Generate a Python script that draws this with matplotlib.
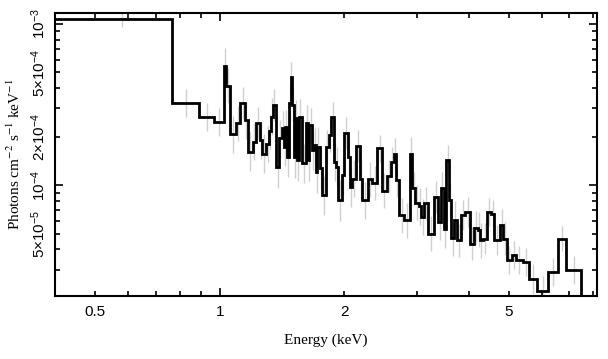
import numpy as np
import matplotlib
matplotlib.use("Agg")
import matplotlib.pyplot as plt
from matplotlib.ticker import LogLocator, FuncFormatter

plt.rcParams['font.family'] = ['Liberation Sans', 'DejaVu Sans']
plt.rcParams['mathtext.fontset'] = 'custom'
plt.rcParams['mathtext.rm'] = 'Liberation Sans'
plt.rcParams['mathtext.it'] = 'Liberation Sans:italic'

# bin edges (keV)
edges = [0.39, 0.769, 0.889, 0.971, 1.023, 1.036, 1.060, 1.096, 1.122, 1.150,
         1.169, 1.202, 1.224, 1.250, 1.267, 1.296, 1.316, 1.334, 1.344, 1.369,
         1.394, 1.411, 1.431, 1.442, 1.458, 1.469, 1.483, 1.497, 1.511, 1.524,
         1.536, 1.553, 1.577, 1.612, 1.636, 1.647, 1.673, 1.689, 1.711, 1.720,
         1.744, 1.763, 1.803, 1.836, 1.857, 1.891, 1.912, 1.934, 1.971, 1.996,
         2.045, 2.061, 2.091, 2.131, 2.179, 2.211, 2.282, 2.338, 2.396, 2.472,
         2.530, 2.590, 2.638, 2.663, 2.713, 2.790, 2.879, 2.912, 2.971, 3.033,
         3.067, 3.118, 3.194, 3.297, 3.377, 3.423, 3.486, 3.520, 3.585, 3.631,
         3.687, 3.735, 3.827, 3.920, 4.024, 4.121, 4.198, 4.250, 4.316, 4.413,
         4.523, 4.607, 4.756, 4.845, 4.935, 5.074, 5.200, 5.395, 5.600, 5.845,
         6.209, 6.565, 6.865, 7.483]

# flux in units of 1e-4 photons cm^-2 s^-1 keV^-1
flux = [10.74, 3.25, 2.65, 2.47, 5.45, 4.15, 2.07, 2.42, 3.24, 2.53,
        1.61, 1.86, 2.44, 1.90, 1.57, 1.80, 2.16, 2.66, 3.14, 1.29,
        1.95, 2.25, 1.73, 2.28, 1.50, 3.22, 4.71, 3.14, 1.49, 2.61,
        1.43, 2.66, 1.37, 2.44, 1.43, 2.36, 1.65, 1.77, 1.21, 1.73,
        1.27, 0.867, 1.73, 2.05, 2.66, 1.40, 1.30, 0.807, 1.15, 2.10,
        1.50, 0.976, 1.10, 1.75, 1.10, 0.807, 1.085, 1.03, 1.69, 0.924,
        1.14, 1.40, 1.56, 1.07, 0.651, 0.606, 1.57, 0.954, 0.779, 0.741,
        0.636, 0.770, 0.501, 0.846, 0.592, 0.954, 0.538, 1.44, 0.807, 0.473,
        0.612, 0.455, 0.651, 0.683, 0.434, 0.546, 0.531, 0.455, 0.467, 0.683,
        0.667, 0.455, 0.570, 0.467, 0.342, 0.367, 0.342, 0.334, 0.263, 0.220,
        0.289, 0.467, 0.299]

# relative errors
err_frac = [0.12, 0.22, 0.22, 0.22, 0.30, 0.28, 0.30, 0.28, 0.26, 0.30,
            0.32, 0.30, 0.26, 0.30, 0.32, 0.30, 0.28, 0.30, 0.26, 0.34,
            0.30, 0.28, 0.32, 0.28, 0.34, 0.28, 0.24, 0.28, 0.34, 0.30,
            0.34, 0.28, 0.32, 0.28, 0.34, 0.28, 0.32, 0.30, 0.36, 0.32,
            0.34, 0.32, 0.28, 0.28, 0.24, 0.32, 0.32, 0.34, 0.32, 0.26,
            0.32, 0.34, 0.30, 0.26, 0.30, 0.30, 0.28, 0.28, 0.22, 0.28,
            0.26, 0.24, 0.26, 0.26, 0.28, 0.28, 0.26, 0.26, 0.28, 0.30,
            0.30, 0.26, 0.28, 0.26, 0.30, 0.26, 0.32, 0.24, 0.28, 0.30,
            0.30, 0.26, 0.24, 0.24, 0.26, 0.26, 0.28, 0.28, 0.24, 0.22,
            0.22, 0.24, 0.24, 0.26, 0.22, 0.22, 0.22, 0.22, 0.24, 0.24,
            0.22, 0.20, 0.22]

edges = np.array(edges)
flux = np.array(flux) * 1e-4
err_frac = np.array(err_frac)
centers = 0.5 * (edges[:-1] + edges[1:])
centers[0] = 0.58
up = flux * err_frac
lo = flux - flux / (1 + err_frac)

fig = plt.figure(figsize=(6.08, 3.59), dpi=100)
ax = fig.add_axes([0.0905, 0.175, 0.891, 0.789])

ax.errorbar(centers, flux, yerr=[lo, up], fmt='none', ecolor='#d0d0d0', elinewidth=1, zorder=1)
ax.stairs(flux, edges, baseline=1e-7, color='k', lw=2, zorder=2)

ax.set_xscale('log')
ax.set_yscale('log')
ax.set_xlim(0.4, 8.15)
ax.set_ylim(2.05e-5, 1.17e-3)

def fmt_x(v, pos):
    for m in (0.5, 1, 2, 5):
        if abs(v - m) < 1e-6:
            return '%g' % m
    return ''

def fmt_y(v, pos):
    e = int(np.floor(np.log10(v) + 1e-9))
    m = round(v / 10.0**e)
    if m == 1:
        return r'10$^{%d}$' % e
    if m in (2, 5):
        return r'%d$\times$10$^{%d}$' % (m, e)
    return ''

ax.xaxis.set_major_locator(LogLocator(base=10, numticks=10))
ax.xaxis.set_minor_locator(LogLocator(base=10, subs=np.arange(2, 10), numticks=10))
ax.xaxis.set_major_formatter(FuncFormatter(fmt_x))
ax.xaxis.set_minor_formatter(FuncFormatter(fmt_x))
ax.yaxis.set_major_locator(LogLocator(base=10, numticks=10))
ax.yaxis.set_minor_locator(LogLocator(base=10, subs=np.arange(2, 10), numticks=10))
ax.yaxis.set_major_formatter(FuncFormatter(fmt_y))
ax.yaxis.set_minor_formatter(FuncFormatter(fmt_y))

ax.tick_params(which='both', direction='in', top=True, right=True, width=1.2, labelsize=11)
ax.tick_params(which='major', length=5.5)
ax.tick_params(which='minor', length=3.5)
ax.tick_params(axis='x', which='both', pad=6)
ax.tick_params(axis='y', which='both', pad=5)
for lab in ax.get_yticklabels(which='both'):
    lab.set_rotation(90)
    lab.set_va('center')
for s in ax.spines.values():
    s.set_linewidth(1.5)

ax.set_xlabel('Energy (keV)', family='Liberation Serif', fontsize=11, labelpad=11)
ax.set_ylabel(r'Photons cm$^{-2}$ s$^{-1}$ keV$^{-1}$', family='Liberation Serif',
              math_fontfamily='stix', fontsize=11, labelpad=5)

fig.savefig('out.png', dpi=100)
